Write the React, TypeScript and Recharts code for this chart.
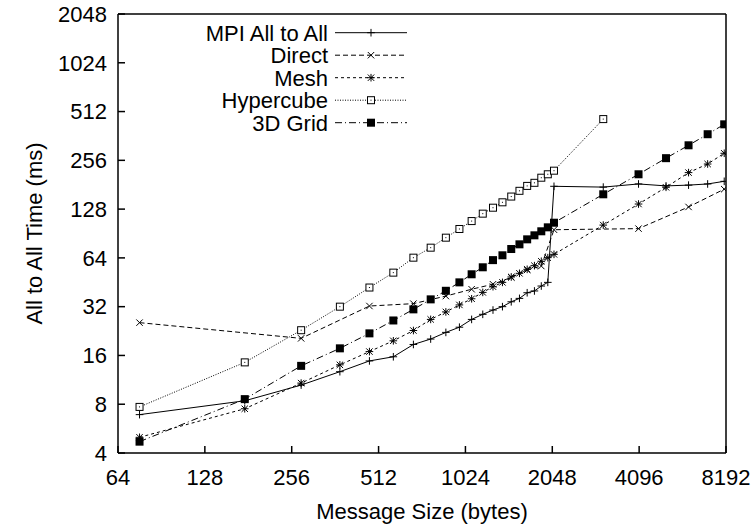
import React from "react";
import { LineChart, Line, XAxis, YAxis, Legend } from "recharts";

// message sizes in bytes
const sizes = [
  76, 176, 276, 376, 476, 576, 676, 776, 876, 976, 1076, 1176, 1276, 1376,
  1476, 1576, 1676, 1776, 1876, 1976, 2076, 3076, 4076, 5076, 6076, 7076, 8076,
];
const directSizes = [
  76, 276, 476, 676, 876, 1076, 1276, 1476, 1676, 1876, 2076, 4076, 6076, 8076,
];
const hypercubeSizes = [
  76, 176, 276, 376, 476, 576, 676, 776, 876, 976, 1076, 1176, 1276, 1376,
  1476, 1576, 1676, 1776, 1876, 1976, 2076, 3076,
];

// all to all time in ms
const mpiTimes = [
  6.9, 8.4, 10.5, 12.7, 14.8, 15.7, 18.7, 20.2, 22.2, 23.9, 26.7, 28.7, 30.5,
  32, 34.3, 36, 39, 40, 42.9, 45.2, 177, 175, 183, 178, 180, 183, 190,
];
const directTimes = [
  25.5, 20.4, 32.3, 33.4, 37.2, 41, 44, 48.5, 54, 57, 95.5, 97, 132, 170,
];
const meshTimes = [
  5.0, 7.5, 10.8, 14, 16.9, 19.7, 22.8, 26.7, 29.7, 32.8, 35.8, 39.2, 42.5,
  45.2, 48.8, 51.4, 54.4, 57.3, 61, 64.2, 67.3, 102, 137.6, 174.5, 215, 243,
  283,
];
const hypercubeTimes = [
  7.7, 14.5, 22.9, 32, 42, 51.9, 64.2, 74, 85.3, 96.5, 108, 120, 130.6, 141,
  153, 166, 178, 186, 200, 210, 221, 460,
];
const gridTimes = [
  4.7, 8.6, 13.8, 17.7, 21.9, 26.3, 30.8, 35.5, 40.1, 45.2, 50.7, 56, 62, 66.4,
  72.6, 77.6, 83.3, 88.2, 93.4, 98.8, 105.5, 158, 210, 264, 317, 371, 427,
];

const xTicks = [64, 128, 256, 512, 1024, 2048, 4096, 8192];
const yTicks = [4, 8, 16, 32, 64, 128, 256, 512, 1024, 2048];

const toPoints = (xs: number[], ys: number[]) =>
  xs.map((x, i) => ({ x, y: ys[i] }));

type MarkerKind = "plus" | "cross" | "star" | "box" | "fbox";

const series: { name: string; data: { x: number; y: number }[]; dash?: string; marker: MarkerKind }[] = [
  { name: "MPI All to All", data: toPoints(sizes, mpiTimes), marker: "plus" },
  { name: "Direct", data: toPoints(directSizes, directTimes), dash: "5 3", marker: "cross" },
  { name: "Mesh", data: toPoints(sizes, meshTimes), dash: "3 3", marker: "star" },
  { name: "Hypercube", data: toPoints(hypercubeSizes, hypercubeTimes), dash: "1 1.5", marker: "box" },
  { name: "3D Grid", data: toPoints(sizes, gridTimes), dash: "7 3 1 3", marker: "fbox" },
];

const FONT = "'Liberation Sans', Arial, Helvetica, sans-serif";

function Marker({ cx, cy, kind }: { cx: number; cy: number; kind: MarkerKind }) {
  const s = 3.8;
  const d = 3.2;
  if (kind === "plus") {
    return (
      <g stroke="#000" strokeWidth={1}>
        <line x1={cx - s} y1={cy} x2={cx + s} y2={cy} />
        <line x1={cx} y1={cy - s} x2={cx} y2={cy + s} />
      </g>
    );
  }
  if (kind === "cross") {
    return (
      <g stroke="#000" strokeWidth={1}>
        <line x1={cx - d} y1={cy - d} x2={cx + d} y2={cy + d} />
        <line x1={cx - d} y1={cy + d} x2={cx + d} y2={cy - d} />
      </g>
    );
  }
  if (kind === "star") {
    return (
      <g stroke="#000" strokeWidth={1}>
        <line x1={cx - s} y1={cy} x2={cx + s} y2={cy} />
        <line x1={cx} y1={cy - s} x2={cx} y2={cy + s} />
        <line x1={cx - d} y1={cy - d} x2={cx + d} y2={cy + d} />
        <line x1={cx - d} y1={cy + d} x2={cx + d} y2={cy - d} />
      </g>
    );
  }
  if (kind === "box") {
    return (
      <g>
        <rect x={cx - 3.5} y={cy - 3.5} width={7} height={7} fill="#fff" stroke="#000" strokeWidth={1} />
        <rect x={cx - 0.5} y={cy - 0.5} width={1} height={1} fill="#000" />
      </g>
    );
  }
  return <rect x={cx - 4} y={cy - 4} width={8} height={8} fill="#000" />;
}

function LegendBox() {
  return (
    <svg width={420} height={140} style={{ display: "block" }}>
      {series.map((s, i) => {
        const y = 32.7 + i * 22.5;
        return (
          <g key={s.name}>
            <text
              x={328}
              y={y}
              dy="0.36em"
              textAnchor="end"
              fontFamily={FONT}
              fontSize={22}
              fill="#000"
            >
              {s.name}
            </text>
            <line
              x1={335}
              y1={y}
              x2={407}
              y2={y}
              stroke="#000"
              strokeWidth={1}
              strokeDasharray={s.dash}
            />
            <Marker cx={371} cy={y} kind={s.marker} />
          </g>
        );
      })}
    </svg>
  );
}

const tickStyle = { fontSize: 22, fill: "#000", fontFamily: FONT };
const axisStroke = { stroke: "#000", strokeWidth: 1.5 };

export default function App() {
  return (
    <div style={{ position: "absolute", left: 0, top: 0, background: "#fff" }}>
      <LineChart
        width={753}
        height={527}
        margin={{ top: 0, right: 0, bottom: 0, left: 0 }}
        style={{ fontFamily: FONT }}
      >
        <XAxis
          xAxisId="bottom"
          dataKey="x"
          type="number"
          scale="log"
          domain={[64, 8192]}
          ticks={xTicks}
          interval={0}
          allowDataOverflow
          height={74}
          tickSize={-7}
          tickMargin={23}
          tick={tickStyle}
          axisLine={axisStroke}
          tickLine={axisStroke}
          label={{
            content: () => (
              <text x={422} y={519} textAnchor="middle" fontFamily={FONT} fontSize={22} fill="#000">
                Message Size (bytes)
              </text>
            ),
          }}
        />
        <XAxis
          xAxisId="top"
          orientation="top"
          dataKey="x"
          type="number"
          scale="log"
          domain={[64, 8192]}
          ticks={xTicks}
          interval={0}
          allowDataOverflow
          height={14}
          tickSize={-7}
          tick={false}
          axisLine={axisStroke}
          tickLine={axisStroke}
        />
        <YAxis
          yAxisId="left"
          type="number"
          scale="log"
          domain={[4, 2048]}
          ticks={yTicks}
          interval={0}
          allowDataOverflow
          width={118}
          tickSize={-7}
          tickMargin={18}
          tick={tickStyle}
          axisLine={axisStroke}
          tickLine={axisStroke}
          label={{
            content: () => (
              <text
                transform="translate(42,233.5) rotate(-90)"
                textAnchor="middle"
                fontFamily={FONT}
                fontSize={22}
                fill="#000"
              >
                All to All Time (ms)
              </text>
            ),
          }}
        />
        <YAxis
          yAxisId="right"
          orientation="right"
          type="number"
          scale="log"
          domain={[4, 2048]}
          ticks={yTicks}
          interval={0}
          allowDataOverflow
          width={27}
          tickSize={-7}
          tick={false}
          axisLine={axisStroke}
          tickLine={axisStroke}
        />
        <Legend
          layout="horizontal"
          verticalAlign="middle"
          align="center"
          wrapperStyle={{ position: "absolute", left: 0, top: 0, width: 420, height: 140 }}
          content={() => <LegendBox />}
        />
        {series.map((s) => (
          <Line
            key={s.name}
            name={s.name}
            data={s.data}
            dataKey="y"
            xAxisId="bottom"
            yAxisId="left"
            type="linear"
            stroke="#000"
            strokeWidth={1}
            strokeDasharray={s.dash}
            isAnimationActive={false}
            dot={(p: any) => (
              <Marker key={`${s.name}-${p.index}`} cx={p.cx} cy={p.cy} kind={s.marker} />
            )}
            activeDot={false}
          />
        ))}
      </LineChart>
    </div>
  );
}
